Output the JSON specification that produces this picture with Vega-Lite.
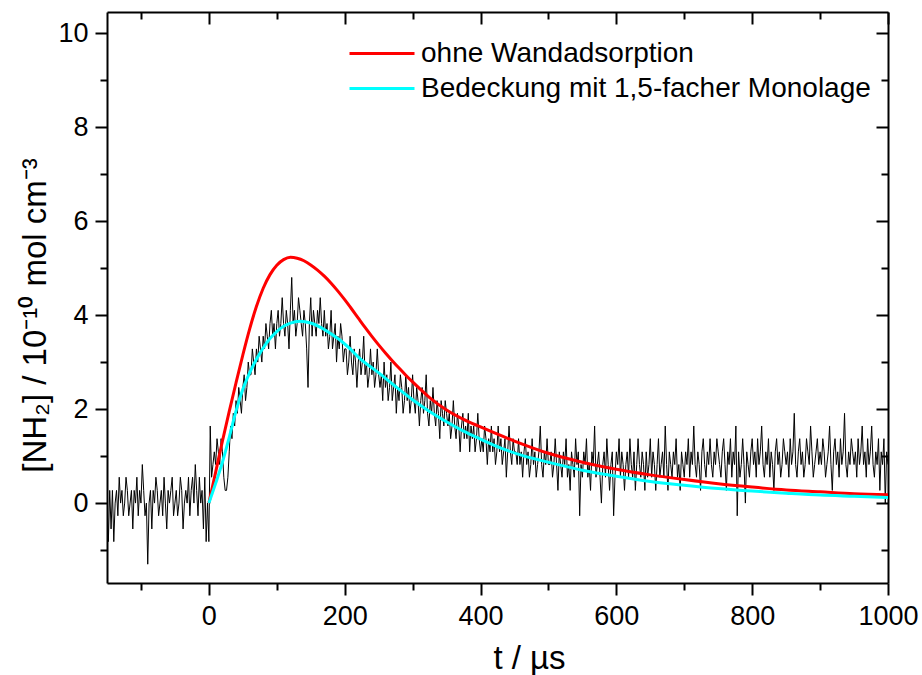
{
  "$schema": "https://vega.github.io/schema/vega-lite/v6.json",
  "width": 781,
  "height": 571,
  "autosize": {"type": "none"},
  "padding": {"left": 107, "top": 12, "right": 34, "bottom": 92},
  "background": "white",
  "config": {"view": {"stroke": null}, "font": "Liberation Sans"},
  "datasets": {
    "noise": [
{"t":-150,"v":0},{"t":-148,"v":-0.82},{"t":-146,"v":0.27},{"t":-144,"v":-0.55},{"t":-142,"v":0.27},{"t":-140,"v":-0.82},{"t":-138,"v":0},{"t":-136,"v":0.27},{"t":-134,"v":-0.27},{"t":-132,"v":0.55},
{"t":-130,"v":0},{"t":-128,"v":0.27},{"t":-126,"v":-0.27},{"t":-124,"v":0},{"t":-122,"v":0.55},{"t":-120,"v":0.27},{"t":-118,"v":-0.27},{"t":-116,"v":0},{"t":-114,"v":0.27},{"t":-112,"v":-0.55},
{"t":-110,"v":0.27},{"t":-108,"v":0},{"t":-106,"v":0.55},{"t":-104,"v":-0.27},{"t":-102,"v":0.27},{"t":-100,"v":0},{"t":-98,"v":0.82},{"t":-96,"v":0.27},{"t":-94,"v":-0.27},{"t":-92,"v":0},
{"t":-90,"v":-1.3},{"t":-88,"v":0},{"t":-86,"v":0.27},{"t":-84,"v":-0.55},{"t":-82,"v":0.27},{"t":-80,"v":0},{"t":-78,"v":0.55},{"t":-76,"v":0.27},{"t":-74,"v":-0.27},{"t":-72,"v":0},
{"t":-70,"v":0.27},{"t":-68,"v":-0.27},{"t":-66,"v":0.55},{"t":-64,"v":0},{"t":-62,"v":-0.55},{"t":-60,"v":0.27},{"t":-58,"v":0},{"t":-56,"v":0.27},{"t":-54,"v":0.55},{"t":-52,"v":-0.27},
{"t":-50,"v":0},{"t":-48,"v":0.27},{"t":-46,"v":-0.27},{"t":-44,"v":0},{"t":-42,"v":0.55},{"t":-40,"v":0.27},{"t":-38,"v":-0.55},{"t":-36,"v":0},{"t":-34,"v":0.27},{"t":-32,"v":0},
{"t":-30,"v":0.55},{"t":-28,"v":-0.27},{"t":-26,"v":0.27},{"t":-24,"v":0.55},{"t":-22,"v":0},{"t":-20,"v":0.82},{"t":-18,"v":0.27},{"t":-16,"v":-0.27},{"t":-14,"v":0.55},{"t":-12,"v":0},
{"t":-10,"v":0.27},{"t":-8,"v":-0.55},{"t":-6,"v":0.55},{"t":-4,"v":-0.82},{"t":-2,"v":0},
{"t":0,"v":-0.82},{"t":2,"v":1.64},{"t":4,"v":0.55},{"t":6,"v":0.82},{"t":8,"v":1.09},{"t":10,"v":0.82},{"t":12,"v":1.37},{"t":14,"v":1.09},{"t":16,"v":0.82},{"t":18,"v":1.37},
{"t":20,"v":1.09},{"t":22,"v":0.55},{"t":24,"v":0.27},{"t":26,"v":0.27},{"t":28,"v":0.55},
{"t":30,"v":1.09},{"t":32,"v":1.64},{"t":34,"v":1.37},{"t":36,"v":1.91},{"t":38,"v":1.64},{"t":40,"v":2.18},
{"t":42,"v":1.91},{"t":44,"v":2.46},{"t":46,"v":2.18},{"t":48,"v":1.91},{"t":50,"v":2.46},{"t":52,"v":2.73},{"t":54,"v":2.18},{"t":56,"v":2.46},{"t":58,"v":3.0},{"t":60,"v":2.73},
{"t":62,"v":2.73},{"t":64,"v":3.28},{"t":66,"v":3.0},{"t":68,"v":2.73},{"t":70,"v":3.28},{"t":72,"v":3.0},{"t":74,"v":3.55},{"t":76,"v":3.28},{"t":78,"v":3.0},{"t":80,"v":3.55},
{"t":82,"v":3.28},{"t":84,"v":3.82},{"t":86,"v":3.55},{"t":88,"v":3.28},{"t":90,"v":3.82},{"t":92,"v":4.1},{"t":94,"v":3.55},{"t":96,"v":3.82},{"t":98,"v":3.28},{"t":100,"v":3.82},
{"t":102,"v":4.1},{"t":104,"v":3.55},{"t":106,"v":3.82},{"t":108,"v":4.37},{"t":110,"v":3.82},{"t":112,"v":3.55},{"t":114,"v":4.1},{"t":116,"v":3.82},{"t":118,"v":3.28},{"t":120,"v":4.1},
{"t":122,"v":4.8},{"t":124,"v":3.82},{"t":126,"v":4.1},{"t":128,"v":3.55},{"t":130,"v":3.82},{"t":132,"v":4.37},{"t":134,"v":4.1},{"t":136,"v":3.82},{"t":138,"v":3.55},{"t":140,"v":4.1},
{"t":142,"v":3.82},{"t":144,"v":3.28},{"t":146,"v":2.46},{"t":148,"v":3.82},{"t":150,"v":4.37},{"t":152,"v":3.55},{"t":154,"v":4.1},{"t":156,"v":3.82},{"t":158,"v":3.55},{"t":160,"v":4.1},
{"t":162,"v":3.82},{"t":164,"v":4.37},{"t":166,"v":3.82},{"t":168,"v":3.55},{"t":170,"v":4.1},
{"t":172,"v":3.55},{"t":174,"v":3.82},{"t":176,"v":3.28},{"t":178,"v":3.55},{"t":180,"v":4.1},{"t":182,"v":3.28},{"t":184,"v":3.55},{"t":186,"v":3.82},{"t":188,"v":3.0},{"t":190,"v":3.55},
{"t":192,"v":3.28},{"t":194,"v":3.82},{"t":196,"v":3.55},{"t":198,"v":3.0},{"t":200,"v":3.28},
{"t":202,"v":3.28},{"t":204,"v":2.73},{"t":206,"v":3.0},{"t":208,"v":3.55},{"t":210,"v":3.0},{"t":212,"v":2.73},{"t":214,"v":3.28},{"t":216,"v":3.0},{"t":218,"v":2.46},{"t":220,"v":3.0},
{"t":222,"v":3.28},{"t":224,"v":2.73},{"t":226,"v":3.0},{"t":228,"v":3.55},{"t":230,"v":2.73},{"t":232,"v":3.0},{"t":234,"v":2.46},{"t":236,"v":2.73},{"t":238,"v":3.28},{"t":240,"v":2.73},
{"t":242,"v":3.0},{"t":244,"v":2.46},{"t":246,"v":2.73},{"t":248,"v":3.28},{"t":250,"v":2.73},
{"t":252,"v":2.46},{"t":254,"v":2.73},{"t":256,"v":2.18},{"t":258,"v":3.0},{"t":260,"v":2.46},{"t":262,"v":2.73},{"t":264,"v":2.18},{"t":266,"v":2.46},{"t":268,"v":3.0},{"t":270,"v":2.18},
{"t":272,"v":2.46},{"t":274,"v":2.73},{"t":276,"v":1.91},{"t":278,"v":2.46},{"t":280,"v":2.18},{"t":282,"v":2.73},{"t":284,"v":2.46},{"t":286,"v":1.91},{"t":288,"v":2.18},{"t":290,"v":2.73},
{"t":292,"v":2.18},{"t":294,"v":2.46},{"t":296,"v":1.91},{"t":298,"v":2.18},{"t":300,"v":2.73},
{"t":302,"v":2.18},{"t":304,"v":1.91},{"t":306,"v":2.46},{"t":308,"v":2.18},{"t":310,"v":1.64},{"t":312,"v":2.18},{"t":314,"v":2.46},{"t":316,"v":1.91},{"t":318,"v":2.18},{"t":320,"v":2.73},
{"t":322,"v":1.91},{"t":324,"v":1.64},{"t":326,"v":2.18},{"t":328,"v":1.91},{"t":330,"v":2.46},{"t":332,"v":1.91},{"t":334,"v":1.64},{"t":336,"v":2.18},{"t":338,"v":1.91},{"t":340,"v":1.37},
{"t":342,"v":2.18},{"t":344,"v":1.91},{"t":346,"v":1.64},{"t":348,"v":2.18},{"t":350,"v":1.91},
{"t":352,"v":1.64},{"t":354,"v":1.91},{"t":356,"v":1.37},{"t":358,"v":1.64},{"t":360,"v":2.18},{"t":362,"v":1.64},{"t":364,"v":1.37},{"t":366,"v":1.91},{"t":368,"v":1.64},{"t":370,"v":1.09},
{"t":372,"v":1.64},{"t":374,"v":1.91},{"t":376,"v":1.37},{"t":378,"v":1.64},{"t":380,"v":1.37},{"t":382,"v":1.91},{"t":384,"v":1.09},{"t":386,"v":1.64},{"t":388,"v":1.37},{"t":390,"v":1.64},
{"t":392,"v":1.09},{"t":394,"v":1.37},{"t":396,"v":1.91},{"t":398,"v":1.37},{"t":400,"v":1.09},
{"t":402,"v":1.37},{"t":404,"v":1.09},{"t":406,"v":1.64},{"t":408,"v":1.37},{"t":410,"v":0.82},{"t":412,"v":1.37},{"t":414,"v":1.09},{"t":416,"v":1.64},{"t":418,"v":1.09},{"t":420,"v":1.37},
{"t":422,"v":0.82},{"t":424,"v":1.09},{"t":426,"v":1.64},{"t":428,"v":1.09},{"t":430,"v":1.37},{"t":432,"v":0.82},{"t":434,"v":1.09},{"t":436,"v":1.37},{"t":438,"v":0.55},{"t":440,"v":1.09},
{"t":442,"v":1.64},{"t":444,"v":1.09},{"t":446,"v":0.82},{"t":448,"v":1.37},{"t":450,"v":1.09},
{"t":452,"v":1.09},{"t":454,"v":0.82},{"t":456,"v":1.37},{"t":458,"v":0.82},{"t":460,"v":1.09},{"t":462,"v":0.55},{"t":464,"v":1.09},{"t":466,"v":1.37},{"t":468,"v":0.82},{"t":470,"v":1.09},
{"t":472,"v":0.55},{"t":474,"v":0.82},{"t":476,"v":1.37},{"t":478,"v":0.82},{"t":480,"v":1.09},{"t":482,"v":0.55},{"t":484,"v":0.82},{"t":486,"v":1.09},{"t":488,"v":1.64},{"t":490,"v":0.82},
{"t":492,"v":0.55},{"t":494,"v":1.09},{"t":496,"v":0.82},{"t":498,"v":1.37},{"t":500,"v":0.82},
{"t":502,"v":0.82},{"t":504,"v":1.09},{"t":506,"v":0.55},{"t":508,"v":0.82},{"t":510,"v":1.37},{"t":512,"v":0.82},{"t":514,"v":0.27},{"t":516,"v":1.09},{"t":518,"v":0.82},{"t":520,"v":0.55},
{"t":522,"v":1.09},{"t":524,"v":0.82},{"t":526,"v":1.37},{"t":528,"v":0.55},{"t":530,"v":0.82},{"t":532,"v":0.27},{"t":534,"v":1.09},{"t":536,"v":0.82},{"t":538,"v":0.55},{"t":540,"v":1.37},
{"t":542,"v":0.82},{"t":544,"v":1.09},{"t":546,"v":-0.27},{"t":548,"v":0.82},{"t":550,"v":0.55},
{"t":552,"v":1.09},{"t":554,"v":0.82},{"t":556,"v":1.37},{"t":558,"v":0.55},{"t":560,"v":0.82},{"t":562,"v":0.27},{"t":564,"v":1.09},{"t":566,"v":0.82},{"t":568,"v":1.64},{"t":570,"v":0.55},
{"t":572,"v":0.82},{"t":574,"v":1.09},{"t":576,"v":0.55},{"t":578,"v":0},{"t":580,"v":0.82},{"t":582,"v":1.09},{"t":584,"v":0.55},{"t":586,"v":1.37},{"t":588,"v":0.82},{"t":590,"v":0.27},
{"t":592,"v":0.82},{"t":594,"v":1.09},{"t":596,"v":-0.27},{"t":598,"v":0.55},{"t":600,"v":1.09},
{"t":602,"v":0.82},{"t":604,"v":1.37},{"t":606,"v":0.55},{"t":608,"v":1.09},{"t":610,"v":0.82},{"t":612,"v":0.27},{"t":614,"v":0.82},{"t":616,"v":1.09},{"t":618,"v":0.55},{"t":620,"v":1.37},
{"t":622,"v":0.82},{"t":624,"v":0.55},{"t":626,"v":1.09},{"t":628,"v":0.27},{"t":630,"v":0.82},{"t":632,"v":1.37},{"t":634,"v":0.82},{"t":636,"v":0.55},{"t":638,"v":1.09},{"t":640,"v":0.82},
{"t":642,"v":0.27},{"t":644,"v":1.09},{"t":646,"v":0.55},{"t":648,"v":0.82},{"t":650,"v":1.37},
{"t":652,"v":0.55},{"t":654,"v":1.09},{"t":656,"v":0.82},{"t":658,"v":0.27},{"t":660,"v":0.82},{"t":662,"v":1.37},{"t":664,"v":0.55},{"t":666,"v":0.82},{"t":668,"v":1.09},{"t":670,"v":0.55},
{"t":672,"v":1.64},{"t":674,"v":0.82},{"t":676,"v":0.27},{"t":678,"v":1.09},{"t":680,"v":0.82},{"t":682,"v":0.55},{"t":684,"v":1.09},{"t":686,"v":0.82},{"t":688,"v":1.37},{"t":690,"v":0.55},
{"t":692,"v":0.82},{"t":694,"v":0.27},{"t":696,"v":1.09},{"t":698,"v":0.82},{"t":700,"v":0.55},
{"t":702,"v":1.09},{"t":704,"v":0.82},{"t":706,"v":1.37},{"t":708,"v":0.55},{"t":710,"v":1.09},{"t":712,"v":0.82},{"t":714,"v":1.64},{"t":716,"v":0.82},{"t":718,"v":0.55},{"t":720,"v":1.09},
{"t":722,"v":0.82},{"t":724,"v":0.27},{"t":726,"v":1.09},{"t":728,"v":1.37},{"t":730,"v":0.82},{"t":732,"v":0.55},{"t":734,"v":1.09},{"t":736,"v":0.82},{"t":738,"v":1.37},{"t":740,"v":0.82},
{"t":742,"v":0.55},{"t":744,"v":1.09},{"t":746,"v":0.82},{"t":748,"v":1.37},{"t":750,"v":1.09},
{"t":752,"v":0.82},{"t":754,"v":0.55},{"t":756,"v":1.09},{"t":758,"v":1.37},{"t":760,"v":0.82},{"t":762,"v":0.27},{"t":764,"v":1.09},{"t":766,"v":0.82},{"t":768,"v":1.37},{"t":770,"v":0.55},
{"t":772,"v":1.09},{"t":774,"v":0.82},{"t":776,"v":1.64},{"t":778,"v":-0.27},{"t":780,"v":1.09},{"t":782,"v":0.55},{"t":784,"v":0.82},{"t":786,"v":1.37},{"t":788,"v":0.82},{"t":790,"v":0},
{"t":792,"v":1.09},{"t":794,"v":0.82},{"t":796,"v":0.55},{"t":798,"v":1.09},{"t":800,"v":1.37},
{"t":802,"v":0.82},{"t":804,"v":1.09},{"t":806,"v":0.55},{"t":808,"v":1.37},{"t":810,"v":0.82},{"t":812,"v":1.09},{"t":814,"v":1.64},{"t":816,"v":0.82},{"t":818,"v":0.55},{"t":820,"v":1.09},
{"t":822,"v":0.82},{"t":824,"v":1.37},{"t":826,"v":0.55},{"t":828,"v":1.09},{"t":830,"v":0.82},{"t":832,"v":0.27},{"t":834,"v":1.09},{"t":836,"v":1.37},{"t":838,"v":0.82},{"t":840,"v":1.09},
{"t":842,"v":0.55},{"t":844,"v":0.82},{"t":846,"v":1.37},{"t":848,"v":1.09},{"t":850,"v":0.82},
{"t":852,"v":1.09},{"t":854,"v":0.55},{"t":856,"v":1.37},{"t":858,"v":0.82},{"t":860,"v":1.09},{"t":862,"v":1.91},{"t":864,"v":0.82},{"t":866,"v":0.55},{"t":868,"v":1.09},{"t":870,"v":1.37},
{"t":872,"v":0.82},{"t":874,"v":1.09},{"t":876,"v":0.55},{"t":878,"v":0.82},{"t":880,"v":1.37},{"t":882,"v":1.09},{"t":884,"v":0.82},{"t":886,"v":1.64},{"t":888,"v":1.09},{"t":890,"v":0.55},
{"t":892,"v":0.82},{"t":894,"v":1.09},{"t":896,"v":1.37},{"t":898,"v":0.82},{"t":900,"v":1.09},
{"t":902,"v":0.82},{"t":904,"v":1.37},{"t":906,"v":1.09},{"t":908,"v":0.55},{"t":910,"v":0.82},{"t":912,"v":1.09},{"t":914,"v":1.64},{"t":916,"v":0.82},{"t":918,"v":0.27},{"t":920,"v":1.09},
{"t":922,"v":1.37},{"t":924,"v":0.82},{"t":926,"v":1.09},{"t":928,"v":0.55},{"t":930,"v":1.37},{"t":932,"v":0.82},{"t":934,"v":1.09},{"t":936,"v":1.91},{"t":938,"v":0.82},{"t":940,"v":0.55},
{"t":942,"v":1.09},{"t":944,"v":0.82},{"t":946,"v":1.37},{"t":948,"v":1.09},{"t":950,"v":0.82},
{"t":952,"v":1.09},{"t":954,"v":0.55},{"t":956,"v":1.37},{"t":958,"v":0.82},{"t":960,"v":1.09},{"t":962,"v":1.64},{"t":964,"v":0.82},{"t":966,"v":1.09},{"t":968,"v":0.55},{"t":970,"v":1.37},
{"t":972,"v":0.82},{"t":974,"v":1.09},{"t":976,"v":1.64},{"t":978,"v":0.82},{"t":980,"v":0.55},{"t":982,"v":1.09},{"t":984,"v":0.82},{"t":986,"v":1.37},{"t":988,"v":0.27},{"t":990,"v":1.09},
{"t":992,"v":0.82},{"t":994,"v":1.37},{"t":996,"v":0},{"t":998,"v":1.09},{"t":1000,"v":0.82}
    ],
    "fit": [
{"s":"ohne Wandadsorption","t":0,"y":0},{"s":"ohne Wandadsorption","t":10,"y":0.66},{"s":"ohne Wandadsorption","t":20,"y":1.32},{"s":"ohne Wandadsorption","t":30,"y":1.95},{"s":"ohne Wandadsorption","t":40,"y":2.56},
{"s":"ohne Wandadsorption","t":50,"y":3.15},{"s":"ohne Wandadsorption","t":60,"y":3.7},{"s":"ohne Wandadsorption","t":70,"y":4.18},{"s":"ohne Wandadsorption","t":80,"y":4.57},{"s":"ohne Wandadsorption","t":90,"y":4.86},
{"s":"ohne Wandadsorption","t":100,"y":5.06},{"s":"ohne Wandadsorption","t":110,"y":5.18},{"s":"ohne Wandadsorption","t":120,"y":5.23},{"s":"ohne Wandadsorption","t":130,"y":5.21},{"s":"ohne Wandadsorption","t":140,"y":5.155},
{"s":"ohne Wandadsorption","t":150,"y":5.067},{"s":"ohne Wandadsorption","t":160,"y":4.957},{"s":"ohne Wandadsorption","t":170,"y":4.827},{"s":"ohne Wandadsorption","t":180,"y":4.677},{"s":"ohne Wandadsorption","t":190,"y":4.509},
{"s":"ohne Wandadsorption","t":200,"y":4.327},{"s":"ohne Wandadsorption","t":210,"y":4.134},{"s":"ohne Wandadsorption","t":220,"y":3.935},{"s":"ohne Wandadsorption","t":230,"y":3.737},{"s":"ohne Wandadsorption","t":240,"y":3.547},
{"s":"ohne Wandadsorption","t":250,"y":3.366},{"s":"ohne Wandadsorption","t":260,"y":3.194},{"s":"ohne Wandadsorption","t":270,"y":3.03},{"s":"ohne Wandadsorption","t":280,"y":2.872},{"s":"ohne Wandadsorption","t":290,"y":2.721},
{"s":"ohne Wandadsorption","t":300,"y":2.577},{"s":"ohne Wandadsorption","t":325,"y":2.245},{"s":"ohne Wandadsorption","t":350,"y":1.98},{"s":"ohne Wandadsorption","t":375,"y":1.78},
{"s":"ohne Wandadsorption","t":400,"y":1.62},{"s":"ohne Wandadsorption","t":450,"y":1.32},{"s":"ohne Wandadsorption","t":500,"y":1.06},{"s":"ohne Wandadsorption","t":550,"y":0.87},{"s":"ohne Wandadsorption","t":600,"y":0.72},
{"s":"ohne Wandadsorption","t":650,"y":0.6},{"s":"ohne Wandadsorption","t":700,"y":0.5},{"s":"ohne Wandadsorption","t":750,"y":0.41},{"s":"ohne Wandadsorption","t":800,"y":0.34},{"s":"ohne Wandadsorption","t":850,"y":0.28},
{"s":"ohne Wandadsorption","t":900,"y":0.24},{"s":"ohne Wandadsorption","t":950,"y":0.2},{"s":"ohne Wandadsorption","t":1000,"y":0.18},
{"s":"Bedeckung mit 1,5-facher Monolage","t":0,"y":0},{"s":"Bedeckung mit 1,5-facher Monolage","t":10,"y":0.42},{"s":"Bedeckung mit 1,5-facher Monolage","t":20,"y":0.87},{"s":"Bedeckung mit 1,5-facher Monolage","t":30,"y":1.4},
{"s":"Bedeckung mit 1,5-facher Monolage","t":40,"y":1.96},{"s":"Bedeckung mit 1,5-facher Monolage","t":50,"y":2.42},{"s":"Bedeckung mit 1,5-facher Monolage","t":60,"y":2.77},{"s":"Bedeckung mit 1,5-facher Monolage","t":70,"y":3.06},
{"s":"Bedeckung mit 1,5-facher Monolage","t":80,"y":3.3},{"s":"Bedeckung mit 1,5-facher Monolage","t":90,"y":3.5},{"s":"Bedeckung mit 1,5-facher Monolage","t":100,"y":3.65},{"s":"Bedeckung mit 1,5-facher Monolage","t":110,"y":3.76},
{"s":"Bedeckung mit 1,5-facher Monolage","t":120,"y":3.83},{"s":"Bedeckung mit 1,5-facher Monolage","t":134,"y":3.87},{"s":"Bedeckung mit 1,5-facher Monolage","t":150,"y":3.83},{"s":"Bedeckung mit 1,5-facher Monolage","t":163,"y":3.75},
{"s":"Bedeckung mit 1,5-facher Monolage","t":178,"y":3.62},{"s":"Bedeckung mit 1,5-facher Monolage","t":193,"y":3.47},{"s":"Bedeckung mit 1,5-facher Monolage","t":208,"y":3.28},{"s":"Bedeckung mit 1,5-facher Monolage","t":222,"y":3.08},
{"s":"Bedeckung mit 1,5-facher Monolage","t":237,"y":2.91},{"s":"Bedeckung mit 1,5-facher Monolage","t":252,"y":2.75},{"s":"Bedeckung mit 1,5-facher Monolage","t":275,"y":2.48},{"s":"Bedeckung mit 1,5-facher Monolage","t":300,"y":2.2},
{"s":"Bedeckung mit 1,5-facher Monolage","t":325,"y":1.95},{"s":"Bedeckung mit 1,5-facher Monolage","t":350,"y":1.73},{"s":"Bedeckung mit 1,5-facher Monolage","t":375,"y":1.53},{"s":"Bedeckung mit 1,5-facher Monolage","t":400,"y":1.36},
{"s":"Bedeckung mit 1,5-facher Monolage","t":430,"y":1.17},{"s":"Bedeckung mit 1,5-facher Monolage","t":460,"y":1.02},{"s":"Bedeckung mit 1,5-facher Monolage","t":500,"y":0.87},{"s":"Bedeckung mit 1,5-facher Monolage","t":550,"y":0.7},
{"s":"Bedeckung mit 1,5-facher Monolage","t":600,"y":0.57},{"s":"Bedeckung mit 1,5-facher Monolage","t":650,"y":0.46},{"s":"Bedeckung mit 1,5-facher Monolage","t":700,"y":0.38},{"s":"Bedeckung mit 1,5-facher Monolage","t":750,"y":0.31},
{"s":"Bedeckung mit 1,5-facher Monolage","t":800,"y":0.255},{"s":"Bedeckung mit 1,5-facher Monolage","t":850,"y":0.21},{"s":"Bedeckung mit 1,5-facher Monolage","t":900,"y":0.17},{"s":"Bedeckung mit 1,5-facher Monolage","t":950,"y":0.145},
{"s":"Bedeckung mit 1,5-facher Monolage","t":1000,"y":0.12}
    ]
  },
  "layer": [
    {
      "data": {"name": "noise"},
      "mark": {"type": "line", "color": "black", "strokeWidth": 1, "clip": true},
      "encoding": {
        "x": {
          "field": "t", "type": "quantitative",
          "scale": {"domain": [-150, 1000], "nice": false, "zero": false},
          "axis": {
            "orient": "bottom",
            "values": [-100, 0, 100, 200, 300, 400, 500, 600, 700, 800, 900, 1000],
            "format": "d",
            "labelExpr": "datum.value % 200 === 0 ? datum.label : ''",
            "tickSize": {"condition": {"test": "datum.value % 200 === 0", "value": 12}, "value": 7},
            "tickWidth": 2, "tickColor": "black",
            "domainColor": "black", "domainWidth": 2,
            "grid": false,
            "labelFont": "Liberation Sans", "labelFontSize": 27, "labelColor": "black", "labelPadding": 8,
            "labelFlush": false, "labelOverlap": false,
            "title": "t / µs",
            "titleFont": "Liberation Sans", "titleFontSize": 33, "titleFontWeight": "normal", "titleColor": "black",
            "titleX": 422, "titleY": 85, "titleBaseline": "alphabetic", "titleAlign": "center"
          }
        },
        "y": {
          "field": "v", "type": "quantitative",
          "scale": {"domain": [-1.7, 10.447], "nice": false, "zero": false},
          "axis": {
            "orient": "left",
            "values": [-1, 0, 1, 2, 3, 4, 5, 6, 7, 8, 9, 10],
            "format": "d",
            "labelExpr": "datum.value % 2 === 0 ? datum.label : ''",
            "tickSize": {"condition": {"test": "datum.value % 2 === 0", "value": 12}, "value": 7},
            "tickWidth": 2, "tickColor": "black",
            "domainColor": "black", "domainWidth": 2,
            "grid": false,
            "labelFont": "Liberation Sans", "labelFontSize": 27, "labelColor": "black", "labelPadding": 7,
            "labelFlush": false, "labelOverlap": false,
            "title": "[NH₂] / 10⁻¹⁰ mol cm⁻³",
            "titleFont": "Liberation Sans", "titleFontSize": 33, "titleFontWeight": "normal", "titleColor": "black",
            "titleX": -62, "titleY": 303, "titleBaseline": "alphabetic", "titleAlign": "center", "titleAngle": -90
          }
        }
      }
    },
    {
      "data": {"name": "fit"},
      "mark": {"type": "line", "strokeWidth": 3, "interpolate": "monotone", "clip": true},
      "encoding": {
        "x": {
          "field": "t", "type": "quantitative",
          "scale": {"domain": [-150, 1000], "nice": false, "zero": false},
          "axis": {
            "orient": "top",
            "values": [-100, 0, 100, 200, 300, 400, 500, 600, 700, 800, 900, 1000],
            "labels": false, "title": null, "grid": false,
            "tickSize": {"condition": {"test": "datum.value % 200 === 0", "value": -12}, "value": -7},
            "tickWidth": 2, "tickColor": "black",
            "domainColor": "black", "domainWidth": 2
          }
        },
        "y": {
          "field": "y", "type": "quantitative",
          "scale": {"domain": [-1.7, 10.447], "nice": false, "zero": false},
          "axis": {
            "orient": "right",
            "values": [-1, 0, 1, 2, 3, 4, 5, 6, 7, 8, 9, 10],
            "labels": false, "title": null, "grid": false,
            "tickSize": {"condition": {"test": "datum.value % 2 === 0", "value": -12}, "value": -7},
            "tickWidth": 2, "tickColor": "black",
            "domainColor": "black", "domainWidth": 2
          }
        },
        "color": {
          "field": "s", "type": "nominal",
          "scale": {"domain": ["ohne Wandadsorption", "Bedeckung mit 1,5-facher Monolage"], "range": ["#ff0000", "#00ffff"]},
          "sort": ["ohne Wandadsorption", "Bedeckung mit 1,5-facher Monolage"],
          "legend": {
            "orient": "none", "legendX": 241, "legendY": 26,
            "title": null,
            "symbolType": "stroke", "symbolSize": 4225, "symbolStrokeWidth": 3,
            "labelFont": "Liberation Sans", "labelFontSize": 28, "labelColor": "black",
            "labelOffset": 5, "labelLimit": 700,
            "rowPadding": 4, "clipHeight": 31, "padding": 0
          }
        }
      }
    }
  ],
  "resolve": {"axis": {"x": "independent", "y": "independent"}}
}
